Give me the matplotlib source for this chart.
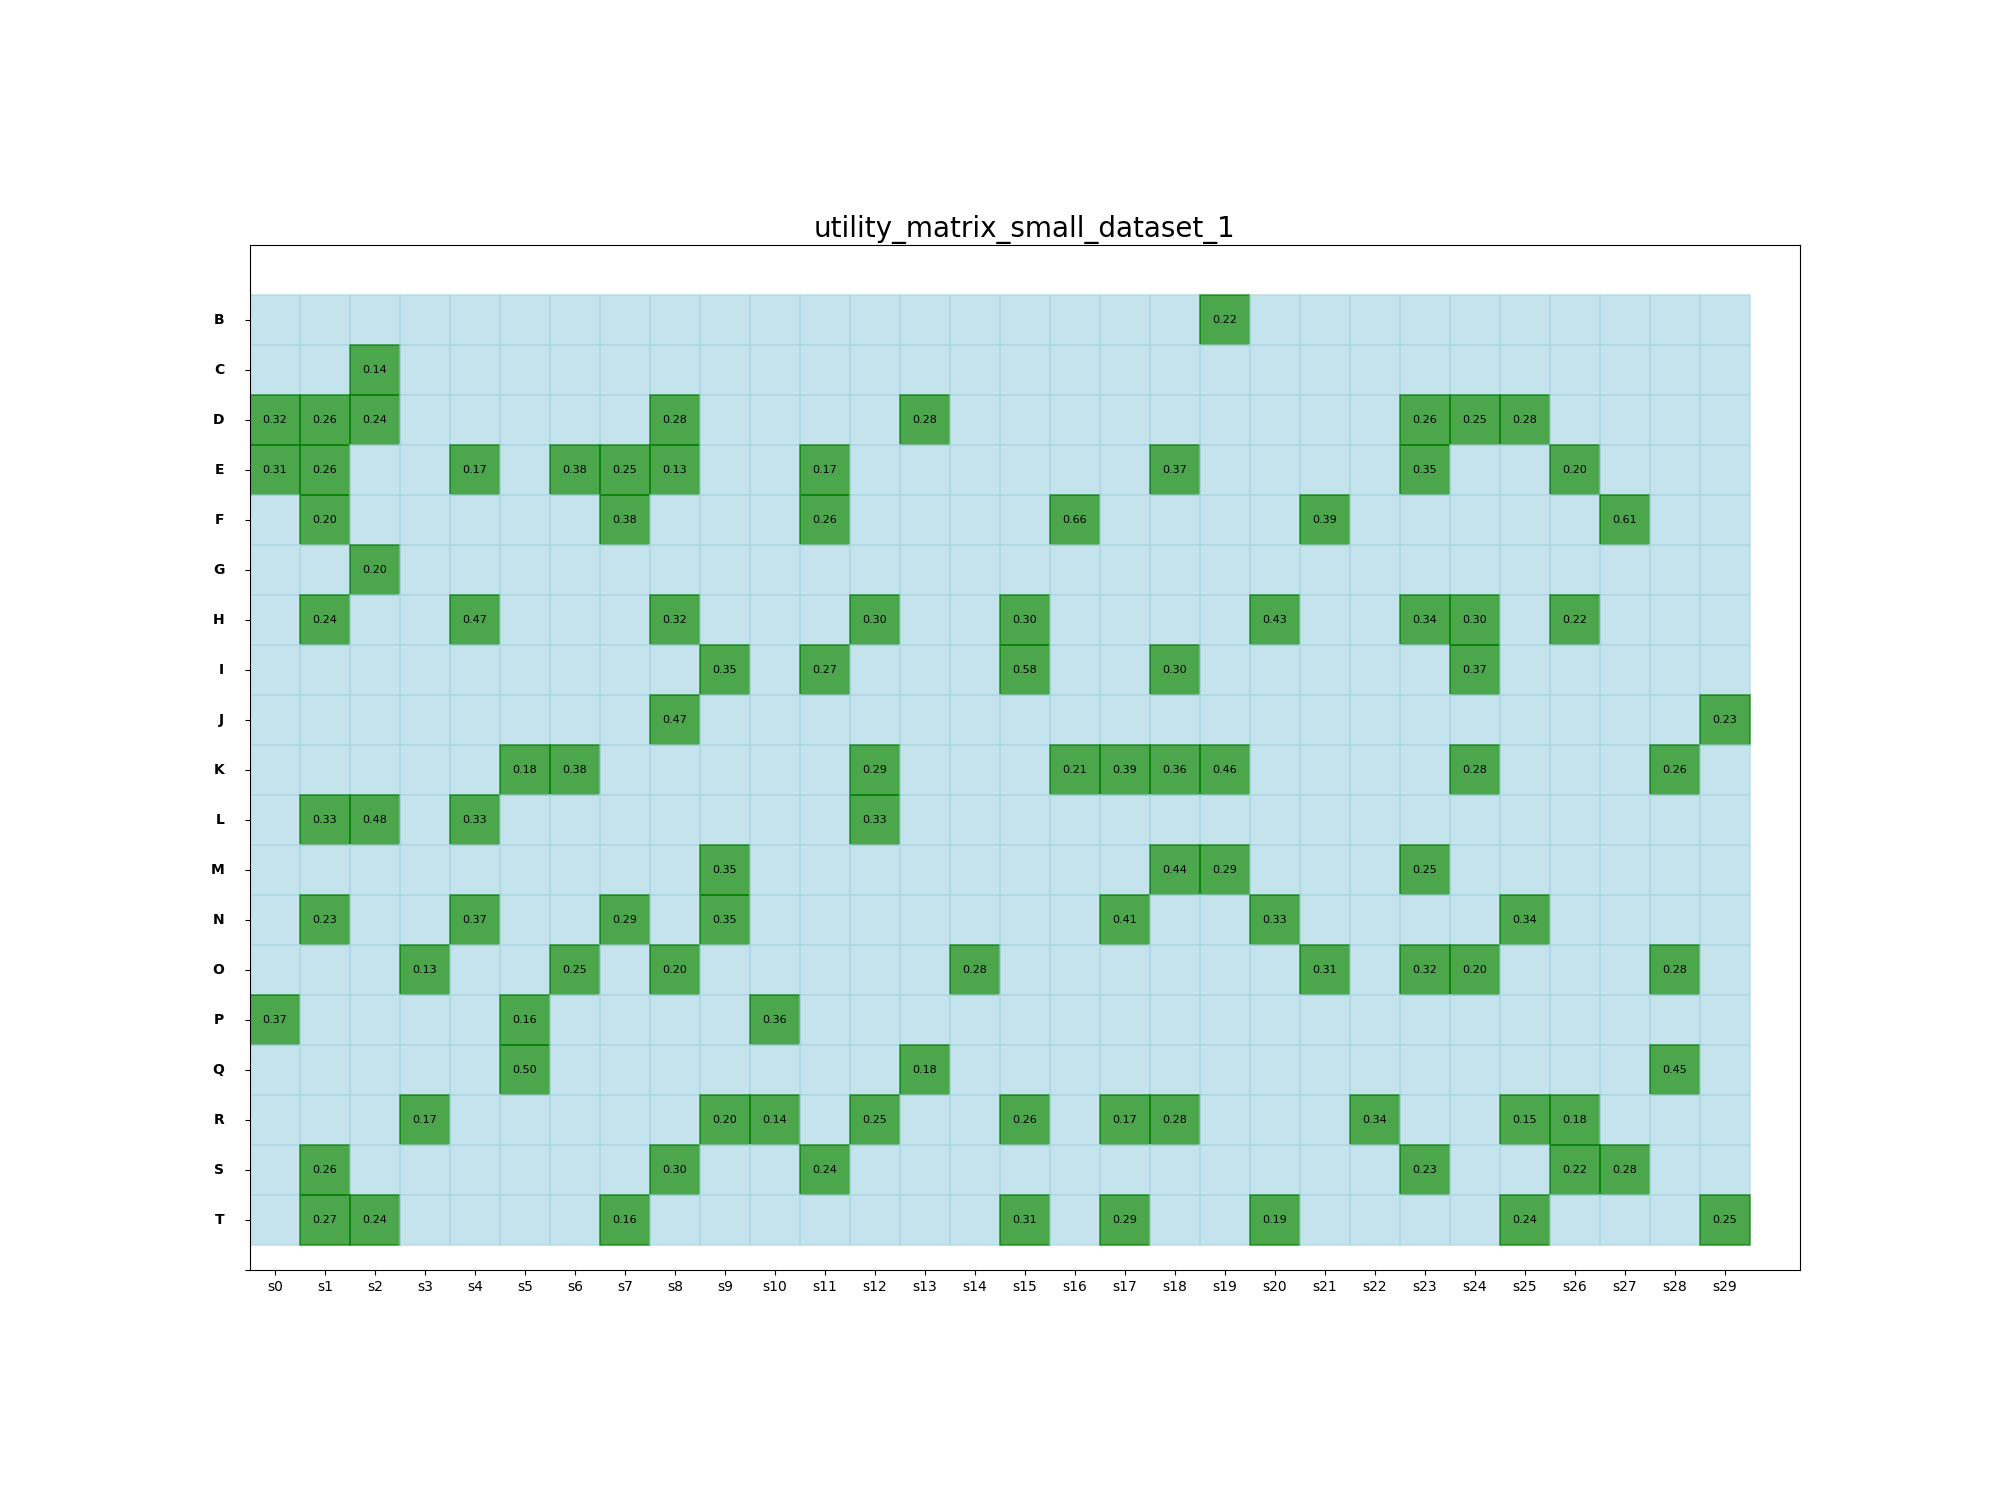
import matplotlib.pyplot as plt
from matplotlib.patches import Rectangle

# Data
rows = ['B', 'C', 'D', 'E', 'F', 'G', 'H', 'I', 'J', 'K',
        'L', 'M', 'N', 'O', 'P', 'Q', 'R', 'S', 'T']
cols = [f's{i}' for i in range(30)]

# non-empty entries per row: {column index: value}
B = {19: 0.22}
C = {2: 0.14}
D = {0: 0.32, 1: 0.26, 2: 0.24, 8: 0.28, 13: 0.28, 23: 0.26, 24: 0.25, 25: 0.28}
E = {0: 0.31, 1: 0.26, 4: 0.17, 6: 0.38, 7: 0.25, 8: 0.13, 11: 0.17, 18: 0.37, 23: 0.35, 26: 0.20}
F = {1: 0.20, 7: 0.38, 11: 0.26, 16: 0.66, 21: 0.39, 27: 0.61}
G = {2: 0.20}
H = {1: 0.24, 4: 0.47, 8: 0.32, 12: 0.30, 15: 0.30, 20: 0.43, 23: 0.34, 24: 0.30, 26: 0.22}
I = {9: 0.35, 11: 0.27, 15: 0.58, 18: 0.30, 24: 0.37}
J = {8: 0.47, 29: 0.23}
K = {5: 0.18, 6: 0.38, 12: 0.29, 16: 0.21, 17: 0.39, 18: 0.36, 19: 0.46, 24: 0.28, 28: 0.26}
L = {1: 0.33, 2: 0.48, 4: 0.33, 12: 0.33}
M = {9: 0.35, 18: 0.44, 19: 0.29, 23: 0.25}
N = {1: 0.23, 4: 0.37, 7: 0.29, 9: 0.35, 17: 0.41, 20: 0.33, 25: 0.34}
O = {3: 0.13, 6: 0.25, 8: 0.20, 14: 0.28, 21: 0.31, 23: 0.32, 24: 0.20, 28: 0.28}
P = {0: 0.37, 5: 0.16, 10: 0.36}
Q = {5: 0.50, 13: 0.18, 28: 0.45}
R = {3: 0.17, 9: 0.20, 10: 0.14, 12: 0.25, 15: 0.26, 17: 0.17, 18: 0.28, 22: 0.34, 25: 0.15, 26: 0.18}
S = {1: 0.26, 8: 0.30, 11: 0.24, 23: 0.23, 26: 0.22, 27: 0.28}
T = {1: 0.27, 2: 0.24, 7: 0.16, 15: 0.31, 17: 0.29, 20: 0.19, 25: 0.24, 29: 0.25}

matrix = [B, C, D, E, F, G, H, I, J, K, L, M, N, O, P, Q, R, S, T]

fig, ax = plt.subplots(figsize=(20, 15), dpi=100)

for i, row in enumerate(matrix):
    y = i + 1
    for j in range(len(cols)):
        if j in row:
            ax.add_patch(Rectangle((j - 0.5, y - 0.5), 1, 1, facecolor='green',
                                   edgecolor='green', alpha=0.7, linewidth=1.2))
            ax.text(j, y, f'{row[j]:.2f}', ha='center', va='center', fontsize=8, color='black')
        else:
            ax.add_patch(Rectangle((j - 0.5, y - 0.5), 1, 1, facecolor='lightblue',
                                   edgecolor='lightblue', alpha=0.7, linewidth=1.2))

ax.set_xlim(-0.5, len(cols) + 0.5)
ax.set_ylim(len(rows) + 1, -0.5)
ax.set_aspect('equal')

ax.set_xticks(range(len(cols)))
ax.set_xticklabels(cols, fontsize=10)
ax.set_yticks(list(range(1, len(rows) + 1)) + [len(rows) + 1])
ax.set_yticklabels(rows + [''], fontsize=10, fontweight='bold', va='center')
ax.tick_params(axis='y', pad=15)

ax.set_title('utility_matrix_small_dataset_1', fontsize=20)

plt.savefig('out.png', dpi=100)
